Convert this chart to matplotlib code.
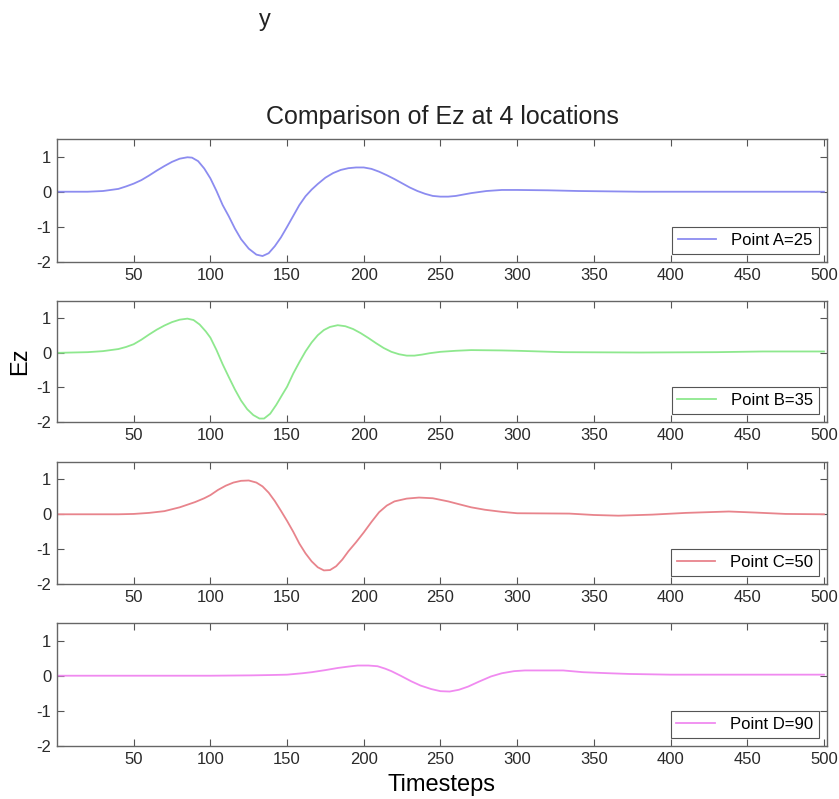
import matplotlib
matplotlib.use("Agg")
import matplotlib.pyplot as plt

plt.rcParams.update({
    'font.family': ['Liberation Sans', 'DejaVu Sans'],
    'font.size': 12,
    'axes.unicode_minus': False,
})

# ── Data ─────────────────────────────────────────────────────────────────
t_a = [0, 10, 20, 30, 40, 45, 50, 55, 60, 65, 70, 75, 80, 85, 88, 92, 96,
       100, 104, 108, 112, 116, 120, 125, 130, 134, 138, 142, 146, 150, 154,
       158, 162, 166, 170, 175, 180, 185, 190, 195, 200, 205, 210, 215, 220,
       225, 230, 235, 240, 245, 250, 255, 260, 265, 270, 280, 290, 300, 320,
       340, 360, 380, 500]
ez_a = [0.0, 0.0, 0.0, 0.02, 0.08, 0.15, 0.23, 0.33, 0.46, 0.6, 0.73, 0.85,
        0.94, 0.98, 0.97, 0.87, 0.66, 0.38, 0.02, -0.38, -0.7, -1.05, -1.35,
        -1.62, -1.79, -1.83, -1.75, -1.55, -1.3, -1.0, -0.69, -0.38, -0.13,
        0.06, 0.22, 0.4, 0.53, 0.62, 0.67, 0.69, 0.69, 0.65, 0.57, 0.47,
        0.36, 0.24, 0.12, 0.02, -0.06, -0.12, -0.14, -0.14, -0.12, -0.08,
        -0.04, 0.02, 0.05, 0.05, 0.04, 0.02, 0.01, 0.0, 0.0]

t_b = [0, 20, 30, 40, 45, 50, 55, 60, 65, 70, 75, 80, 85, 89, 93, 97, 100,
       104, 108, 112, 116, 120, 124, 128, 132, 135, 139, 143, 147, 150, 154,
       158, 162, 166, 170, 174, 178, 183, 188, 193, 198, 203, 208, 213, 218,
       223, 228, 233, 238, 243, 250, 260, 270, 290, 300, 330, 380, 430, 460,
       500]
ez_b = [0.0, 0.02, 0.05, 0.11, 0.17, 0.25, 0.38, 0.53, 0.67, 0.79, 0.89,
        0.96, 0.99, 0.95, 0.82, 0.62, 0.44, 0.08, -0.33, -0.7, -1.06, -1.38,
        -1.63, -1.8, -1.9, -1.9, -1.76, -1.5, -1.2, -0.98, -0.6, -0.27, 0.04,
        0.3, 0.51, 0.66, 0.75, 0.8, 0.77, 0.69, 0.57, 0.43, 0.28, 0.14, 0.03,
        -0.04, -0.08, -0.08, -0.05, -0.01, 0.03, 0.06, 0.08, 0.07, 0.06,
        0.02, 0.01, 0.02, 0.04, 0.04]

t_c = [0, 40, 50, 60, 70, 80, 90, 96, 100, 105, 110, 115, 120, 125, 130,
       134, 138, 142, 146, 150, 154, 158, 162, 166, 170, 174, 178, 182, 186,
       190, 195, 200, 205, 210, 215, 220, 228, 236, 245, 255, 262, 270, 279,
       290, 300, 334, 350, 366, 388, 410, 438, 455, 475, 500]
ez_c = [0.0, 0.0, 0.01, 0.04, 0.09, 0.2, 0.35, 0.46, 0.55, 0.7, 0.82, 0.91,
        0.96, 0.97, 0.91, 0.8, 0.62, 0.38, 0.1, -0.19, -0.5, -0.84, -1.12,
        -1.35, -1.52, -1.61, -1.6, -1.49, -1.3, -1.06, -0.8, -0.52, -0.22,
        0.06, 0.25, 0.37, 0.45, 0.48, 0.46, 0.37, 0.29, 0.2, 0.13, 0.07,
        0.03, 0.02, -0.02, -0.04, -0.01, 0.04, 0.08, 0.05, 0.01, 0.0]

t_d = [0, 100, 127, 140, 150, 160, 166, 175, 183, 190, 196, 203, 209, 214,
       218, 224, 231, 237, 244, 250, 256, 262, 268, 275, 283, 290, 298, 305,
       313, 330, 343, 360, 373, 400, 500]
ez_d = [0.0, 0.0, 0.01, 0.02, 0.03, 0.07, 0.1, 0.16, 0.22, 0.26, 0.29, 0.29,
        0.27, 0.2, 0.13, 0.0, -0.16, -0.28, -0.38, -0.44, -0.45, -0.4, -0.31,
        -0.17, -0.02, 0.07, 0.13, 0.15, 0.15, 0.15, 0.1, 0.07, 0.05, 0.03,
        0.03]

series = [
    (t_a, ez_a, 'Point A=25', '#8c8cf0'),
    (t_b, ez_b, 'Point B=35', '#8ee88e'),
    (t_c, ez_c, 'Point C=50', '#e8848c'),
    (t_d, ez_d, 'Point D=90', '#f08af0'),
]

x_ticks = [50, 100, 150, 200, 250, 300, 350, 400, 450, 500]
y_ticks = [-2, -1, 0, 1]

# axes boxes in pixels: (left, top, right, bottom)
W, H = 839, 799
boxes = [(57, 139, 827, 262), (57, 301, 827, 422),
         (57, 462, 827, 584), (57, 623, 827, 746)]

fig = plt.figure(figsize=(W / 100, H / 100), dpi=100)

axes = []
for (t, ez, name, col), (x0, y0, x1, y1) in zip(series, boxes):
    ax = fig.add_axes([x0 / W, 1 - y1 / H, (x1 - x0) / W, (y1 - y0) / H])
    ax.plot(t, ez, color=col, linewidth=1.3, label=name)
    ax.set_xlim(0, 502)
    ax.set_ylim(-2, 1.5)
    ax.set_xticks(x_ticks)
    ax.set_yticks(y_ticks)
    ax.tick_params(direction='in', length=5, width=0.8, color='#555555',
                   labelcolor='#2a2a2a', labelsize=12,
                   top=True, right=True, pad=4)
    for sp in ax.spines.values():
        sp.set_color('#666666')
        sp.set_linewidth(1.0)
    leg = ax.legend(loc='lower right', fontsize=12, fancybox=False,
                    framealpha=1, edgecolor='#555555', handlelength=2.3,
                    handletextpad=0.9, borderpad=0.35, borderaxespad=0.5)
    leg.get_frame().set_linewidth(0.8)
    axes.append(ax)

axes[0].set_title('Comparison of Ez at 4 locations', fontsize=18,
                  color='#222222', pad=11)
axes[1].set_ylabel('Ez', fontsize=17, labelpad=4)
axes[3].set_xlabel('Timesteps', fontsize=17, labelpad=5)

fig.text(265 / W, 1 - 20 / H, 'y', fontsize=17, ha='center', va='center',
         color='#222222')

fig.savefig('out.png', dpi=100)
